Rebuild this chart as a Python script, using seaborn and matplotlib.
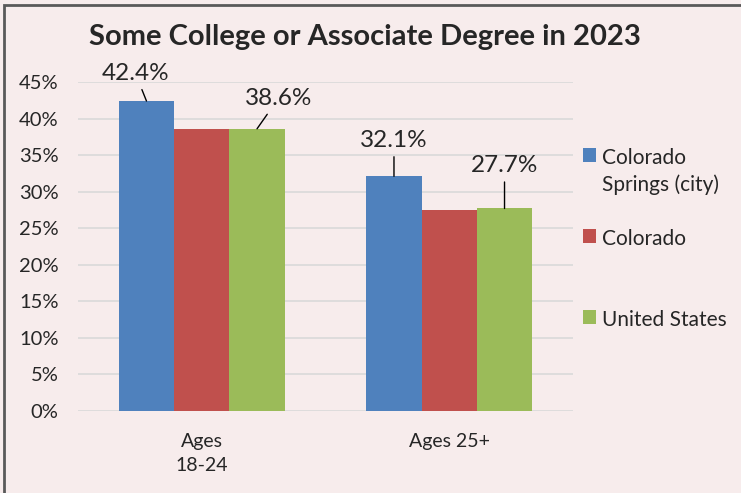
import matplotlib
matplotlib.use("Agg")
import matplotlib.pyplot as plt
from matplotlib.patches import Rectangle
import seaborn as sns
import pandas as pd

# data
age_groups = ["Ages\n18-24", "Ages 25+"]
regions = ["Colorado\nSprings (city)", "Colorado", "United States"]
springs = [42.4, 32.1]
colorado = [38.6, 27.5]
united_states = [38.6, 27.7]

colors = ["#4F81BD", "#C0504D", "#9BBB59"]
bg = "#F7ECEC"

df = pd.DataFrame({
    "age": age_groups * 3,
    "region": [regions[0]] * 2 + [regions[1]] * 2 + [regions[2]] * 2,
    "pct": springs + colorado + united_states,
})

sns.set_style("white")
plt.rcParams["font.family"] = ["Lato", "DejaVu Sans"]

fig = plt.figure(figsize=(7.41, 4.93), dpi=100, facecolor=bg)
ax = fig.add_axes([78 / 741, 82 / 493, (573 - 78) / 741, (411 - 82) / 493])
ax.set_facecolor(bg)

sns.barplot(data=df, x="age", y="pct", hue="region", hue_order=regions,
            palette=colors, width=0.67, saturation=1, linewidth=0,
            ax=ax, zorder=3)

ax.set_ylim(0, 45)
ax.set_xlim(-0.5, 1.5)
ax.set_yticks(range(0, 46, 5))
ax.set_yticklabels([f"{v}%" for v in range(0, 46, 5)])
ax.yaxis.grid(True, color="#D9D9D9", linewidth=1.2, zorder=0)
ax.set_axisbelow(True)
for s in ax.spines.values():
    s.set_visible(False)
ax.tick_params(axis="y", length=0, pad=14, labelsize=14.5)
ax.tick_params(axis="x", length=0, pad=16, labelsize=14)
for t in ax.get_xticklabels():
    t.set_linespacing(1.45)
ax.set_xlabel("")
ax.set_ylabel("")

# value labels with leader lines (Springs and United States only)
offsets = {0: [(-8, 20), (0, 26)], 2: [(15.5, 22), (0, 31)]}
for ci, offs in offsets.items():
    for bar, off in zip(ax.containers[ci], offs):
        h = bar.get_height()
        ax.annotate(f"{h:.1f}%", xy=(bar.get_x() + bar.get_width() / 2, h),
                    xytext=off, textcoords="offset points",
                    ha="center", va="center", fontsize=17.5,
                    arrowprops=dict(arrowstyle="-", color="black", lw=1,
                                    shrinkA=2, shrinkB=0))

# Excel gives every legend entry the same slot, so pad one-line labels
handles, labels = ax.get_legend_handles_labels()
labels = [l if "\n" in l else l + "\n" for l in labels]
leg = ax.legend(handles, labels, loc="upper left", bbox_to_anchor=(1.02, 0.80),
                frameon=False, fontsize=15, handlelength=0.65,
                handleheight=0.65, handletextpad=0.25, labelspacing=1.65,
                borderpad=0, borderaxespad=0)
for t in leg.get_texts():
    t.set_linespacing(1.4)
# square next to the first line of a two-line label
for col in leg._legend_handle_box.get_children():
    for row in col.get_children():
        row.align = "top"

fig.text(0.492, 0.925, "Some College or Associate Degree in 2023",
         ha="center", va="center", fontsize=21, fontweight="bold")

fig.patches.append(Rectangle((4 / 741, -0.1), 1.2, 1.1 - 5 / 493,
                             transform=fig.transFigure, fill=False,
                             edgecolor="#595959", linewidth=2))

fig.savefig("out.png", dpi=100, facecolor=bg)
